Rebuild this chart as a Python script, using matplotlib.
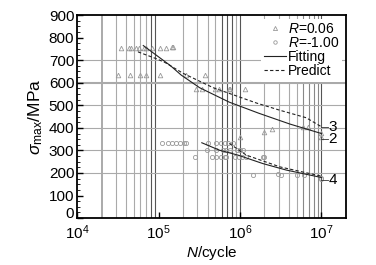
import numpy as np
import matplotlib
matplotlib.use("Agg")
import matplotlib.pyplot as plt
from matplotlib.ticker import LogLocator, MultipleLocator, NullFormatter
from matplotlib.lines import Line2D
from matplotlib.transforms import ScaledTranslation

plt.rcParams['font.family'] = ['Liberation Sans', 'DejaVu Sans']
plt.rcParams['mathtext.fontset'] = 'custom'
plt.rcParams['mathtext.rm'] = 'Liberation Sans'
plt.rcParams['mathtext.it'] = 'Liberation Sans:italic'

# R = 0.06 test points (N, stress)
r006_n = [3.5e4, 4.3e4, 4.6e4, 5.3e4, 5.8e4, 6.6e4, 7.1e4, 8.2e4, 1.05e5, 1.25e5, 1.45e5, 1.52e5,
          3.2e4, 4.5e4, 6.0e4, 7.1e4, 1.04e5, 2.2e5, 3.7e5,
          2.9e5, 3.4e5, 5.0e5, 5.6e5, 7.3e5, 7.6e5, 1.15e6,
          9.9e5, 1.95e6, 2.5e6, 5.9e6, 6.8e6, 1.0e7, 1.0e7]
r006_s = [755, 755, 755, 755, 755, 755, 755, 755, 755, 755, 757, 757,
          635, 635, 635, 635, 635, 634, 634,
          572, 572, 572, 572, 572, 572, 572,
          360, 380, 395, 405, 405, 378, 358]

# R = -1.00 test points
rm1_n = [1.1e5, 1.3e5, 1.45e5, 1.65e5, 1.85e5, 2.05e5, 2.2e5,
         4.0e5, 5.1e5, 5.9e5, 6.5e5, 7.2e5, 8.2e5,
         3.9e5, 5.1e5, 6.2e5, 6.8e5, 7.5e5, 9.1e5, 1.0e6, 1.1e6,
         2.8e5, 4.5e5, 5.1e5, 5.9e5, 6.5e5, 6.8e5, 8.7e5, 9.6e5, 1.05e6, 1.2e6, 1.9e6, 2.0e6,
         1.45e6, 2.95e6, 3.2e6, 5.0e6, 6.2e6, 1.0e7, 1.0e7]
rm1_s = [331, 331, 331, 331, 331, 331, 331,
         331, 331, 331, 331, 331, 331,
         301, 301, 301, 301, 301, 301, 301, 301,
         272, 272, 272, 272, 272, 272, 272, 272, 272, 272, 272, 272,
         190, 195, 190, 192, 192, 178, 174]

# fitting and predicted curves
fit_hi_n = [6.5e4, 1.0e5, 1.4e5, 1.9e5, 3.2e5, 7.4e5, 1.7e6, 4.1e6, 1.0e7]
fit_hi_s = [765, 715, 676, 634, 578, 514, 465, 417, 375]
pre_hi_n = [5.6e4, 9.5e4, 1.2e5, 2.0e5, 4.7e5, 1.6e6, 3.1e6, 6.5e6, 1.0e7]
pre_hi_s = [737, 706, 690, 642, 578, 510, 478, 445, 405]
fit_lo_n = [3.4e5, 5.6e5, 9.5e5, 1.9e6, 3.7e6, 1.0e7]
fit_lo_s = [334, 301, 279, 242, 213, 180]
pre_lo_n = [7.4e5, 1.2e6, 3.1e6, 6.5e6, 1.0e7]
pre_lo_s = [331, 279, 227, 201, 186]

labels = ['3', '2', '4']
label_s = [405, 350, 170]

fig = plt.figure(figsize=(3.76, 2.65), dpi=100)
ax = fig.add_axes([0.205, 0.177, 0.715, 0.766])

ax.set_xscale('log')
ax.set_xlim(1e4, 2e7)
ax.set_ylim(0, 900)

# grid: vertical lines at the minor decades, horizontal at 200..700
for dec in [1e4, 1e5, 1e6]:
    for k in range(2, 10):
        xv = dec * k
        col = '#aaaaaa'
        if (dec == 1e4 and k >= 8) or (dec == 1e5 and k in (6, 7, 8)):
            col = '#555555'
        elif dec == 1e6 and k >= 6:
            col = '#888888'
        ax.axvline(xv, color=col, lw=1.4 if xv == 2e4 else 0.8, zorder=0)
ax.axvline(1e6, color='#555555', lw=0.8, zorder=0)
ax.axvline(1e7, color='#555555', lw=0.8, zorder=0)
for yv in [200, 300, 400, 500, 600, 700]:
    ax.axhline(yv, color='#aaaaaa', lw=0.8 if yv != 600 else 1.5, zorder=0)

ax.plot(r006_n, r006_s, ls='none', marker='^', ms=3.3, mfc='none', mec='#999999', mew=0.6)
ax.plot(rm1_n, rm1_s, ls='none', marker='o', ms=3, mfc='none', mec='#999999', mew=0.6)

ax.plot(fit_hi_n, fit_hi_s, color='#222222', lw=0.8)
ax.plot(fit_lo_n, fit_lo_s, color='#222222', lw=0.8)
ax.plot(pre_hi_n, pre_hi_s, color='#222222', lw=0.8, ls=(0, (3, 2)))
ax.plot(pre_lo_n, pre_lo_s, color='#222222', lw=0.8, ls=(0, (3, 2)))

for lab, s in zip(labels, label_s):
    ax.plot([1.0e7, 1.2e7], [s, s], color='#333333', lw=0.6)
    ax.text(1.22e7, s, lab, fontsize=11, va='center', ha='left')

handles = [
    Line2D([], [], ls='none', marker='^', ms=3, mfc='none', mec='#999999', mew=0.6),
    Line2D([], [], ls='none', marker='o', ms=2.5, mfc='none', mec='#999999', mew=0.6),
    Line2D([], [], color='#222222', lw=0.8),
    Line2D([], [], color='#222222', lw=0.8, ls=(0, (3, 2))),
]
leg = ax.legend(handles, [r'$R$=0.06', r'$R$=-1.00', 'Fitting', 'Predict'],
                loc='upper right', fontsize=10, frameon=True, fancybox=False,
                facecolor='white', edgecolor='none', framealpha=1,
                handlelength=1.6, handletextpad=0.1, labelspacing=0.0,
                borderpad=0.25, borderaxespad=0.25)

ax.yaxis.set_major_locator(MultipleLocator(100))
ax.yaxis.set_minor_locator(MultipleLocator(25))
ax.xaxis.set_major_locator(LogLocator(base=10, numticks=10))
ax.xaxis.set_minor_locator(LogLocator(base=10, subs=np.arange(2, 10), numticks=20))
ax.xaxis.set_minor_formatter(NullFormatter())
ax.tick_params(which='both', direction='in', top=False, right=False, labelsize=11)
ax.tick_params(which='major', length=4, width=1)
ax.tick_params(which='minor', length=2, width=0.6)
ax.tick_params(axis='x', which='minor', length=0)
ax.tick_params(axis='x', pad=4)
ax.tick_params(axis='y', pad=2)

for sp in ax.spines.values():
    sp.set_linewidth(1.3)

ax.set_xlabel(r'$N$/cycle', fontsize=11, labelpad=1)
ax.set_ylabel(r'$\sigma_{\rm max}$/MPa', fontsize=12.5, labelpad=3)

# the "0" label sits a little above its tick, clear of 10^4
fig.canvas.draw()
for tick in ax.yaxis.get_major_ticks():
    if tick.get_loc() == 0:
        lbl = tick.label1
        lbl.set_transform(lbl.get_transform() + ScaledTranslation(0, 4 / 72, fig.dpi_scale_trans))

fig.savefig('out.png', dpi=100)
